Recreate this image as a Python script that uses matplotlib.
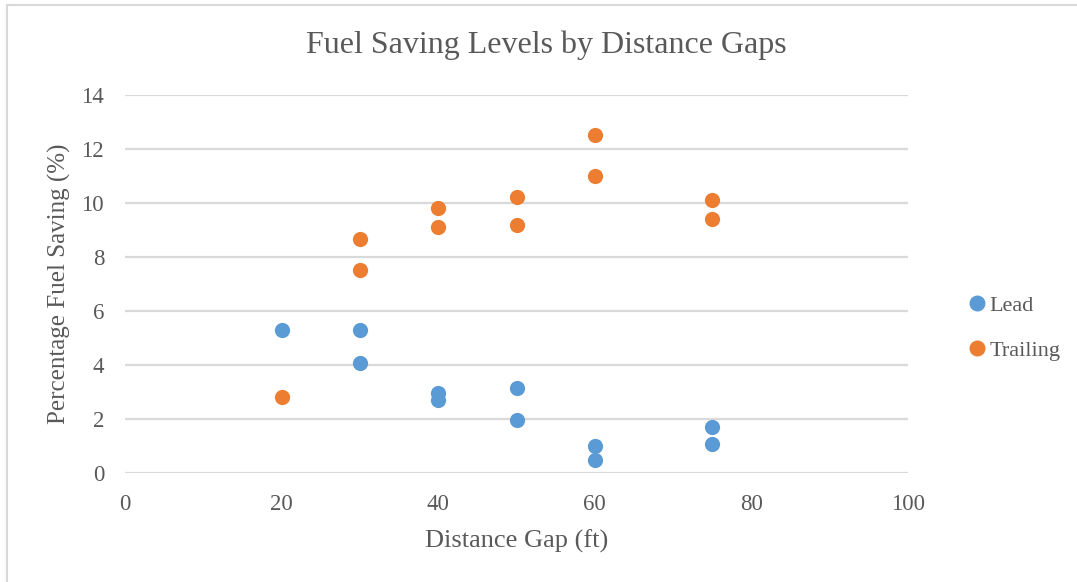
import matplotlib.pyplot as plt
from matplotlib.lines import Line2D

# distance gaps (ft) and fuel saving (%)
lead_x = [20, 30, 30, 40, 40, 50, 50, 60, 60, 75, 75]
lead_y = [5.28, 5.28, 4.06, 2.94, 2.70, 3.14, 1.95, 1.00, 0.48, 1.68, 1.06]
trail_x = [20, 30, 30, 40, 40, 50, 50, 60, 60, 75, 75]
trail_y = [2.81, 8.65, 7.53, 9.80, 9.11, 10.23, 9.17, 12.51, 11.00, 10.11, 9.40]

x_ticks = [0, 20, 40, 60, 80, 100]
y_ticks = [0, 2, 4, 6, 8, 10, 12, 14]

gris = '#595959'
plt.rcParams['font.family'] = ['Liberation Serif', 'DejaVu Serif']

fig = plt.figure(figsize=(10.77, 5.82), dpi=100)
ax = fig.add_axes([125/1077, 1 - 472.7/582, 783/1077, 377.7/582])

ax.scatter(lead_x, lead_y, s=120, color='#5B9BD5', label='Lead', zorder=3, linewidths=0)
ax.scatter(trail_x, trail_y, s=120, color='#ED7D31', label='Trailing', zorder=3, linewidths=0)

ax.set_xlim(0, 100)
ax.set_ylim(0, 14)
ax.set_xticks(x_ticks)
ax.set_yticks(y_ticks)
ax.grid(axis='y', color='#D9D9D9', linewidth=1.6)
ax.set_axisbelow(True)
for s in ax.spines.values():
    s.set_visible(False)
ax.tick_params(length=0, labelsize=16.5, labelcolor=gris)
ax.tick_params(axis='x', pad=15)
ax.tick_params(axis='y', pad=15)

ax.set_xlabel('Distance Gap (ft)', fontsize=19, color=gris, labelpad=11)
ax.set_ylabel('Percentage Fuel Saving (%)', fontsize=18, color=gris)
ax.yaxis.set_label_coords(-0.069, 0.5)

fig.text(546/1077, 1 - 45/582, 'Fuel Saving Levels by Distance Gaps', fontsize=23,
         color=gris, ha='center', va='center')

# leyenda a la derecha
handles = [Line2D([], [], marker='o', linestyle='', markersize=11.5, color='#5B9BD5', markeredgewidth=0),
           Line2D([], [], marker='o', linestyle='', markersize=11.5, color='#ED7D31', markeredgewidth=0)]
fig.legend(handles, ['Lead', 'Trailing'], loc='center left', bbox_to_anchor=(946/1077, 1 - 328/582),
           frameon=False, fontsize=16, labelcolor=gris, handletextpad=0.05, handlelength=1.0,
           labelspacing=1.1)

# borde del recuadro (solo arriba e izquierda visibles)
fig.add_artist(Line2D([7/1077, 7/1077], [0, 1 - 5/582], color='#D9D9D9', linewidth=1.5))
fig.add_artist(Line2D([7/1077, 1], [1 - 5/582, 1 - 5/582], color='#D9D9D9', linewidth=1.5))

fig.savefig('out.png')
